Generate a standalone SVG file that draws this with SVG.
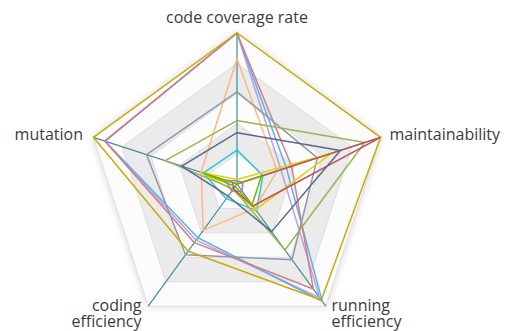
<svg xmlns="http://www.w3.org/2000/svg" width="510" height="331" viewBox="0 0 510 331">
  <style>
    .band-light { fill: #fcfcfc; }
    .band-gray { fill: #ebebeb; }
    .split { fill: none; stroke: #dedede; stroke-width: 1; }
    .axis { stroke: #3b8d93; stroke-width: 1.2; }
    .s { fill: none; stroke-width: 1.5; stroke-linejoin: round; }
    .label { font-family: "Open Sans", "Noto Sans", sans-serif; font-size: 16px; fill: #3c3c3c; }
  </style>
  <defs>
    <filter id="bandShadow" x="-20%" y="-20%" width="140%" height="140%">
      <feGaussianBlur in="SourceAlpha" stdDeviation="4"/>
      <feComponentTransfer><feFuncA type="linear" slope="0.18"/></feComponentTransfer>
      <feMerge><feMergeNode/><feMergeNode in="SourceGraphic"/></feMerge>
    </filter>
  </defs>
  <rect width="510" height="331" fill="#ffffff"/>

  <!-- split areas: five concentric rings, alternating light / gray -->
  <g id="split-area" filter="url(#bandShadow)">
    <path class="band-light" fill-rule="evenodd" d="M237,33 L380.6,137.34 L325.76,306.16 L148.24,306.16 L93.4,137.34 Z M237,63.2 L351.88,146.67 L308.01,281.73 L165.99,281.73 L122.12,146.67 Z"/>
    <path class="band-gray" fill-rule="evenodd" d="M237,63.2 L351.88,146.67 L308.01,281.73 L165.99,281.73 L122.12,146.67 Z M237,93.4 L323.16,156 L290.26,257.3 L183.74,257.3 L150.84,156 Z"/>
    <path class="band-light" fill-rule="evenodd" d="M237,93.4 L323.16,156 L290.26,257.3 L183.74,257.3 L150.84,156 Z M237,123.6 L294.44,165.34 L272.5,232.86 L201.5,232.86 L179.56,165.34 Z"/>
    <path class="band-gray" fill-rule="evenodd" d="M237,123.6 L294.44,165.34 L272.5,232.86 L201.5,232.86 L179.56,165.34 Z M237,153.8 L265.72,174.67 L254.75,208.43 L219.25,208.43 L208.28,174.67 Z"/>
    <path class="band-light" d="M237,153.8 L265.72,174.67 L254.75,208.43 L219.25,208.43 L208.28,174.67 Z"/>
  </g>

  <!-- split lines -->
  <g id="split-lines">
    <polygon class="split" points="237,33 380.6,137.34 325.76,306.16 148.24,306.16 93.4,137.34"/>
    <polygon class="split" points="237,63.2 351.88,146.67 308.01,281.73 165.99,281.73 122.12,146.67"/>
    <polygon class="split" points="237,93.4 323.16,156 290.26,257.3 183.74,257.3 150.84,156"/>
    <polygon class="split" points="237,123.6 294.44,165.34 272.5,232.86 201.5,232.86 179.56,165.34"/>
    <polygon class="split" points="237,153.8 265.72,174.67 254.75,208.43 219.25,208.43 208.28,174.67"/>
  </g>

  <!-- radial axes -->
  <g id="axes">
    <line class="axis" x1="237" y1="184" x2="237" y2="33"/>
    <line class="axis" x1="237" y1="184" x2="380.6" y2="137.34"/>
    <line class="axis" x1="237" y1="184" x2="325.76" y2="306.16"/>
    <line class="axis" x1="237" y1="184" x2="148.24" y2="306.16"/>
    <line class="axis" x1="237" y1="184" x2="93.4" y2="137.34"/>
  </g>

  <!-- data series (order: cov, maint, running, coding, mutation) -->
  <g id="connectors">
    <polygon id="s-cyan" class="s" stroke="#2ec7c9" points="237,150.03 262.85,175.6 256.53,210.88 226.35,198.66 203.25,173.03"/>
    <polygon id="s-purple" class="s" stroke="#b6a2de" points="237,33 280.94,169.72 319.55,297.61 196.17,240.19 104.89,141.07"/>
    <polygon id="s-blue" class="s" stroke="#5ab1ef" points="237,33 286.4,167.95 322.21,301.27 197.95,237.75 104.89,141.07"/>
    <polygon id="s-orange" class="s" stroke="#ffb980" points="237,58.67 277.21,170.94 254.75,208.43 203.27,230.42 201.1,172.33"/>
    <polygon id="s-pink" class="s" stroke="#d87a80" points="237,33 291.57,166.27 313.33,289.06 194.4,242.64 104.89,141.07"/>
    <polygon id="s-grayblue" class="s" stroke="#8d98b3" points="237,91.89 317.42,157.87 292.03,259.74 185.52,254.85 146.53,154.6"/>
    <polygon id="s-yellow" class="s" stroke="#e5cf0d" points="237,179.47 331.78,153.2 255.64,209.65 232.56,190.11 201.67,172.52"/>
    <polygon id="s-green" class="s" stroke="#97b552" points="237,120.58 364.8,142.47 284.93,249.97 233.45,188.89 165.2,160.67"/>
    <polygon id="s-violet" class="s" stroke="#9a7fd1" points="237,181 242.7,182.1 242.3,191.3 231.8,191.1 225.5,180.3"/>
    <polygon id="s-red" class="s" stroke="#c05050" points="237,184 380.6,137.34 252.98,205.99 233.45,188.89 232.69,182.6"/>
    <polygon id="s-slate" class="s" stroke="#59678c" points="237,132.66 340.39,150.4 271.62,231.64 228.12,196.22 181.71,166.04"/>
    <polygon id="s-gold" class="s" stroke="#c9ab00" points="237,33 380.6,137.34 321.32,300.05 188.18,251.19 93.4,137.34"/>
    <polygon id="s-lime" class="s" stroke="#7eb00a" points="237,184 261.41,176.07 252.09,204.77 235.22,186.44 202.54,172.8"/>
  </g>

  <!-- axis names -->
  <g id="label-coverage"><text class="label" x="237" y="23" text-anchor="middle">code coverage rate</text></g>
  <g id="label-maintainability"><text class="label" x="389.5" y="139.5">maintainability</text></g>
  <g id="label-running"><text class="label" x="331.5" y="311">running</text><text class="label" x="331.5" y="326.5">efficiency</text></g>
  <g id="label-coding"><text class="label" x="141.5" y="311" text-anchor="end">coding</text><text class="label" x="141.5" y="326.5" text-anchor="end">efficiency</text></g>
  <g id="label-mutation"><text class="label" x="83" y="139.5" text-anchor="end">mutation</text></g>
</svg>
